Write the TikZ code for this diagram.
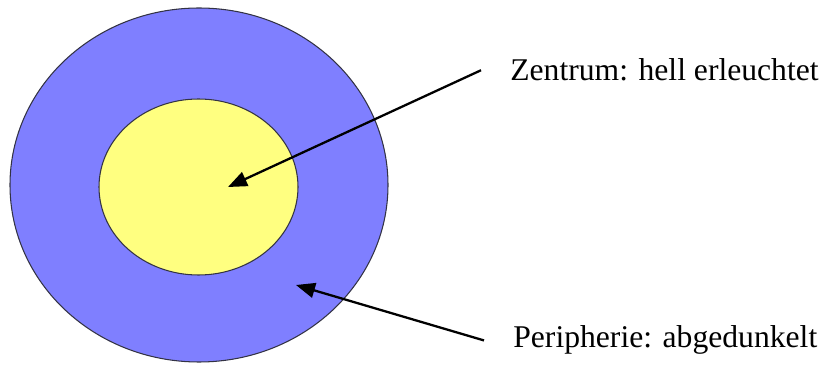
\documentclass[tikz,border=0pt]{standalone}
\usepackage{fontspec}
\setmainfont{Liberation Serif}
\usepackage{tikz}
\usetikzlibrary{positioning,arrows.meta}
\definecolor{RandBlau}{HTML}{7F7FFF}
\definecolor{MitteGelb}{HTML}{FFFF80}
\definecolor{KonturGrau}{HTML}{333344}
\tikzset{
  zone/.style={draw=KonturGrau, line width=0.6pt},
  label text/.style={anchor=base west, inner xsep=0.58cm, inner ysep=0pt, font=\fontsize{18}{22}\selectfont},
  pointer/.style={-{Triangle[length=0.38cm, width=0.30cm]}, line width=1.3pt}
}

\begin{document}
\begin{tikzpicture}
  \useasboundingbox (0,0) rectangle (16.44,7.30);

  % Ellipses
  \draw[zone, fill=RandBlau] (3.98,3.60) ellipse [x radius=3.78, y radius=3.54];
  \draw[zone, fill=MitteGelb] (3.97,3.56) ellipse [x radius=1.99, y radius=1.76];

  % Arrow targets
  \coordinate (mitte) at (4.56,3.56);
  \coordinate (rand) at (5.92,1.60);

  % Labels
  \node[label text] (zentrum) at (9.62,5.68) {Zentrum: hell erleuchtet};
  \node[label text] (peripherie) at (9.68,0.34) {Peripherie: abgedunkelt};

  % Arrows
  \draw[pointer] (zentrum.west) -- (mitte);
  \draw[pointer] (peripherie.west) -- (rand);
\end{tikzpicture}
\end{document}
